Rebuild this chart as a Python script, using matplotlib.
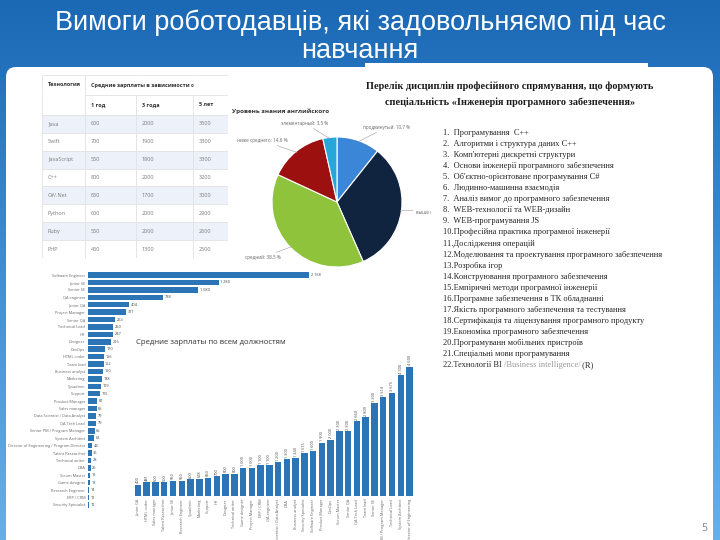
import numpy as np
import matplotlib
matplotlib.use('Agg')
import matplotlib.pyplot as plt
from matplotlib.patches import FancyBboxPatch, Rectangle
from matplotlib.transforms import Bbox

"""
  Slide data
"""
W, H = 720, 540
title_lines = ['Вимоги роботодавців, які задовольняємо під час', 'навчання']

# salary table
tech = ['Java', 'Swift', 'JavaScript', 'C++', 'C#/.Net', 'Python', 'Ruby', 'PHP']
sal_1y = [600, 700, 550, 800, 650, 600, 550, 450]
sal_3y = [2000, 1900, 1800, 2000, 1700, 2000, 2000, 1300]
sal_5y = [3500, 3300, 3300, 3200, 3000, 2900, 2600, 2500]
table_head = 'Технология'
table_group = 'Средние зарплаты в зависимости от опыта работы, $'
exp_cols = ['1 год', '3 года', '5 лет']

# english level pie
eng_title = 'Уровень знания английского'
eng_levels = ['продвинутый', 'выше среднего', 'средний', 'ниже среднего', 'элементарный']
eng_share = [10.7, 32.7, 38.5, 14.6, 3.5]
eng_colors = ['#3b86d6', '#10243f', '#8fc33c', '#9c1010', '#27a6d9']

# list of disciplines
list_title = ['Перелік дисциплін професійного спрямування, що формують',
              'спеціальність «Інженерія програмного забезпечення»']
disciplines = ['Програмування  C++',
               'Алгоритми і структура даних C++',
               "Комп'ютерні дискретні структури",
               'Основи інженерії програмного забезпечення',
               "Об'єктно-орієнтоване програмування C#",
               'Людинно-машинна взаємодія',
               'Аналіз вимог до програмного забезпечення',
               'WEB-технології та WEB-дизайн',
               'WEB-програмування JS',
               'Професійна практика програмної інженерії',
               'Дослідження операцій',
               'Моделювання та проектування програмного забезпечення',
               'Розробка ігор',
               'Конструювання програмного забезпечення',
               'Емпіричні методи програмної інженерії',
               'Програмне забезпечення в ТК обладнанні',
               'Якість програмного забезпечення та тестування',
               'Сертифікація та ліцензування програмного продукту',
               'Економіка програмного забезпечення',
               'Програмуванн мобільних пристроїв',
               'Спеціальні мови програмування',
               'Технології BI ']
last_extra = ['/Business intelligence/', ' (R)']

# vacancies by role (horizontal bars)
vac_roles = ['Software Engineer', 'Junior SE', 'Senior SE', 'QA engineer', 'Junior QA',
             'Project Manager', 'Senior QA', 'Technical Lead', 'HR', 'Designer', 'DevOps',
             'HTML coder', 'Team lead', 'Business analyst', 'Marketing', 'Sysadmin',
             'Support', 'Product Manager', 'Sales manager', 'Data Scientist / Data Analyst',
             'QA Tech Lead', 'Senior PM / Program Manager', 'System Architect',
             'Director of Engineering / Program Director', 'Talent Researcher',
             'Technical writer', 'DBA', 'Scrum Master', 'Game designer',
             'Research Engineer', 'ERP / CRM', 'Security Specialist']
vac_counts = [2168, 1280, 1080, 738, 404, 371, 263, 250, 247, 225, 170, 156, 152, 150,
              138, 129, 115, 87, 85, 79, 79, 66, 63, 44, 36, 28, 26, 19, 18, 14, 12, 12]

# average salary by role (vertical bars)
sal_title = 'Средние зарплаты по всем должностям'
sal_roles = ['Junior QA', 'HTML coder', 'Sales manager', 'Talent Researcher', 'Junior SE',
             'Research Engineer', 'Sysadmin', 'Marketing', 'Support', 'HR', 'Designer',
             'Technical writer', 'Game designer', 'Project Manager', 'ERP / CRM',
             'QA engineer', 'Data Scientist / Data Analyst', 'DBA', 'Business analyst',
             'Security Specialist', 'Software Engineer', 'Product Manager', 'DevOps',
             'Scrum Master', 'Senior QA', 'QA Tech Lead', 'Team lead', 'Senior SE',
             'Senior PM / Program Manager', 'Technical Lead', 'System Architect',
             'Director of Engineering']
sal_values = [400, 481, 500, 500, 550, 550, 600, 618, 650, 700, 800, 800, 1000, 1000,
              1100, 1100, 1200, 1300, 1340, 1515, 1600, 1900, 2000, 2300, 2300, 2660,
              2809, 3300, 3514, 3675, 4300, 4600]

bar_blue = '#2b74b6'
sans = 'Open Sans'


def fmt(v):
    return '{:,}'.format(v).replace(',', ' ')


fig = plt.figure(figsize=(7.2, 5.4), dpi=100)


def px_axes(x0, y0, x1, y1):
    return fig.add_axes([x0 / W, 1 - y1 / H, (x1 - x0) / W, (y1 - y0) / H])


"""
  Background, panel, title
"""
bg = fig.add_axes([0, 0, 1, 1])
bg.set_xlim(0, W)
bg.set_ylim(H, 0)
bg.axis('off')
grad = np.linspace(0, 1, 256).reshape(-1, 1)
cmap = matplotlib.colors.LinearSegmentedColormap.from_list('bgc', ['#1b68b4', '#3e8fd6', '#66b0ea'])
bg.imshow(grad, extent=[0, W, H, 0], aspect='auto', cmap=cmap, zorder=0)
bg.add_patch(FancyBboxPatch((6, 67), 707, 500, boxstyle='round,pad=0,rounding_size=10',
                            fc='white', ec='none', zorder=1))
bg.add_patch(Rectangle((365, 63), 283, 10, fc='white', ec='none', zorder=1))
bg.text(360, 23, title_lines[0], ha='center', va='center', color='white',
        fontsize=19.5, family='Liberation Sans', zorder=3)
bg.text(360, 51, title_lines[1], ha='center', va='center', color='white',
        fontsize=19.5, family='Liberation Sans', zorder=3)
bg.text(704, 528, '5', ha='center', va='center', color='#8c8c8c', fontsize=7, zorder=3)

"""
  Salary table (cut at the right like the screenshot)
"""
tab_ax = px_axes(42, 75, 228, 258)
tab_ax.axis('off')
rows = [[table_head, table_group, '', ''], [''] + exp_cols]
for t, a, b, c in zip(tech, sal_1y, sal_3y, sal_5y):
    rows.append([t, str(a), str(b), str(c)])
col_w = [43, 51, 57, 57]
tbl = tab_ax.table(cellText=rows, colWidths=col_w, cellLoc='left',
                   bbox=[0, 0, sum(col_w) / 186, 1])
tbl.auto_set_font_size(False)
tbl.set_fontsize(4)
edges = {(0, 0): 'TLR', (1, 0): 'BLR', (0, 1): 'TBL', (0, 2): 'TB', (0, 3): 'TBR'}
for (r, c), cell in tbl.get_celld().items():
    cell.set_height(20 if r < 2 else 17.9)
    cell.set_edgecolor('#e3e3e3')
    cell.set_linewidth(0.6)
    cell.PAD = 6 / col_w[c]
    cell.visible_edges = edges.get((r, c), 'closed')
    shaded = r >= 2 and (r - 2) % 2 == 0
    cell.set_facecolor('#edf2fa' if shaded else 'white')
    txt = cell.get_text()
    txt.set_fontfamily(sans)
    if r < 2:
        txt.set_color('#333333')
        txt.set_fontweight('bold')
    else:
        txt.set_color('#7a7a7a')
    cell.set_clip_box(tab_ax.bbox)
    cell.set_clip_on(True)
    txt.set_clip_box(tab_ax.bbox)
    txt.set_clip_on(True)

"""
  English level pie
"""
bg.text(232, 111, eng_title, ha='left', va='center', fontsize=4.5, fontweight='bold',
        color='#333333', family=sans, zorder=3)
pie_ax = px_axes(272, 137, 402, 267)
wedges, _ = pie_ax.pie(eng_share, colors=eng_colors, startangle=90, counterclock=False,
                       radius=1, wedgeprops=dict(edgecolor='white', linewidth=0.8))
pie_ax.set_xlim(-1, 1)
pie_ax.set_ylim(-1, 1)
pie_ax.set_aspect('equal')
for w, name, v in zip(wedges, eng_levels, eng_share):
    ang = np.deg2rad((w.theta1 + w.theta2) / 2)
    ca, sa = np.cos(ang), np.sin(ang)
    lab = pie_ax.annotate('{}: {} %'.format(name, str(v).replace('.', ',')),
                          xy=(0.98 * ca, 0.98 * sa), xytext=(1.22 * ca, 1.22 * sa),
                          ha='left' if ca > 0 else 'right', va='center', fontsize=3.3,
                          color='#666666', family=sans,
                          arrowprops=dict(arrowstyle='-', color='#9a9a9a', lw=0.4,
                                          shrinkA=0, shrinkB=0))
    # the list image covers the right part of the pie labels
    lab.set_clip_box(Bbox.from_extents(0, 0, 431, H))
    lab.set_clip_on(True)

"""
  Disciplines list
"""
for i, line in enumerate(list_title):
    bg.text(510, 86 + 16 * i, line, ha='center', va='center', fontsize=7.4,
            fontweight='bold', family='Liberation Serif', color='#1a1a1a', zorder=3)
for i, name in enumerate(disciplines):
    n = i + 1
    s = '{}.  {}'.format(n, name) if n < 10 else '{}.{}'.format(n, name)
    t = bg.text(443, 133 + 11.05 * i, s, ha='left', va='center', fontsize=6.0,
                family='Liberation Serif', color='#262626', zorder=3)
t2 = bg.annotate(last_extra[0], xy=(1, 0), xycoords=t, va='bottom', ha='left',
                 fontsize=6.0, family='Liberation Serif', color='#9a9a9a', zorder=3)
bg.annotate(last_extra[1], xy=(1, 0), xycoords=t2, va='bottom', ha='left',
            fontsize=6.0, family='Liberation Serif', color='#262626', zorder=3)

"""
  Vacancies by role
"""
hb = px_axes(88, 271.3, 318, 508.7)
yy = np.arange(len(vac_roles))
hb.barh(yy, vac_counts, height=0.74, color=bar_blue)
hb.set_ylim(len(vac_roles) - 0.5, -0.5)
hb.set_xlim(0, 2255)
hb.set_yticks(yy)
hb.set_yticklabels(vac_roles, fontsize=2.8, color='#666666', family=sans)
hb.set_xticks([])
hb.tick_params(axis='y', length=0, pad=2)
for s in hb.spines.values():
    s.set_visible(False)
hb.patch.set_alpha(0)
for y, v in zip(yy, vac_counts):
    hb.text(v + 15, y, fmt(v), va='center', ha='left', fontsize=2.8, color='#444444',
            family=sans)

"""
  Average salary by role
"""
bg.text(136, 343, sal_title, ha='left', va='center', fontsize=5.6, color='#333333',
        family=sans, zorder=3)
vb = px_axes(133.6, 350, 413.9, 496)
xx = np.arange(len(sal_roles))
vb.bar(xx, sal_values, width=0.74, color=bar_blue)
vb.set_xlim(-0.5, len(sal_roles) - 0.5)
vb.set_ylim(0, 5194)
vb.set_xticks(xx)
vb.set_xticklabels(sal_roles, rotation=90, fontsize=2.8, color='#666666', family=sans)
vb.set_yticks([])
vb.tick_params(axis='x', length=0, pad=2)
for s in vb.spines.values():
    s.set_visible(False)
vb.patch.set_alpha(0)
for x, v in zip(xx, sal_values):
    vb.text(x, v + 50, fmt(v), rotation=90, va='bottom', ha='center', fontsize=2.8,
            color='#444444', family=sans)

fig.savefig('out.png', dpi=100)
